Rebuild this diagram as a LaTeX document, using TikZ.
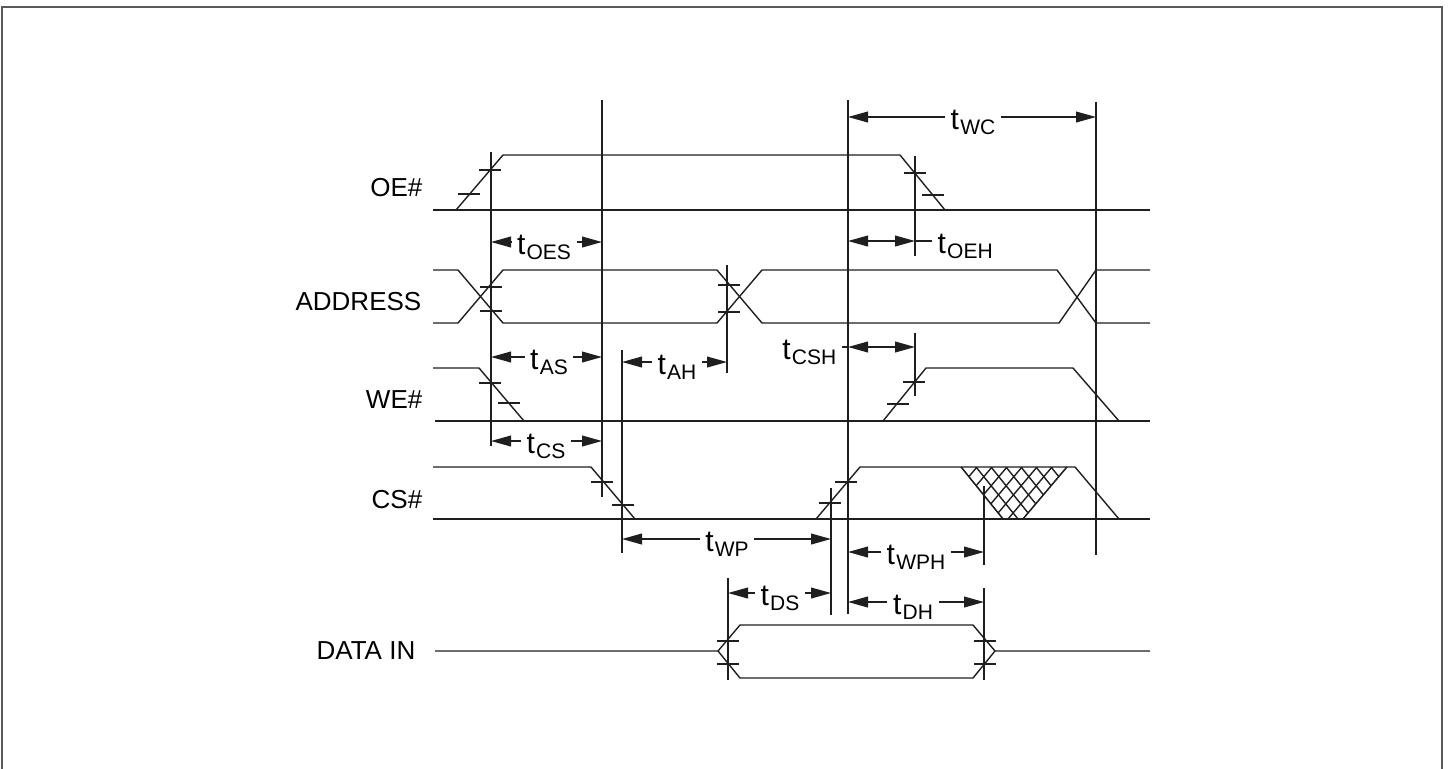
\documentclass[tikz,border=0pt]{standalone}
\usepackage{fontspec}
\setmainfont{Liberation Sans}
\usetikzlibrary{arrows.meta}
\newcommand{\tsub}[1]{t\kern0.6pt\raisebox{-2.6pt}{\fontsize{10.5}{12}\selectfont #1}}

\begin{document}
\begin{tikzpicture}[x=0.5pt,y=-0.5pt,line width=0.7pt,
  wave/.style={draw=black!88,line join=miter},
  guide/.style={draw=black!88},
  dimto/.style={draw=black!88,-{Triangle[length=10pt,width=5.4pt]}},
  dimboth/.style={draw=black!88,{Triangle[length=10pt,width=5.4pt]}-{Triangle[length=10pt,width=5.4pt]}},
  siglab/.style={anchor=east,inner sep=0pt,font=\fontsize{13}{15}\selectfont},
  tlab/.style={inner xsep=2.5pt,inner ysep=0pt,text height=13pt,text depth=1pt,font=\fontsize{15}{17}\selectfont}]
 \useasboundingbox (0,0) rectangle (1448,768);
 \draw[black!65,line width=1pt] (2,775) -- (2,7) -- (1442,7) -- (1442,775);

 % signal names
 \node[siglab] (loe) at (423,188) {OE\#};
 \node[siglab] (laddr) at (422,302) {ADDRESS};
 \node[siglab] (lwe) at (423,400) {WE\#};
 \node[siglab] (lcs) at (423,500) {CS\#};
 \node[siglab] (ldin) at (416,651) {DATA IN};

 % waveforms
 \draw[wave] (433,210) -- (1150,210);
 \draw[wave] (456,210) -- (503,155) -- (900,155) -- (945,210);
 \draw[wave] (433,270) -- (458,270) -- (503,323) -- (717,323) -- (762,270)
   -- (1057,270) -- (1096,323) -- (1150,323);
 \draw[wave] (433,323) -- (458,323) -- (503,270) -- (717,270) -- (762,323)
   -- (1059,323) -- (1096,270) -- (1150,270);
 \draw[wave] (435,421) -- (1150,421);
 \draw[wave] (433,368) -- (479,368) -- (524,421);
 \draw[wave] (883,421) -- (926,368) -- (1073,368) -- (1119,421);
 \draw[wave] (433,519) -- (1150,519);
 \draw[wave] (433,467) -- (591,467) -- (635,519);
 \draw[wave] (816,519) -- (860,467) -- (1075,467) -- (1119,519);
 \draw[wave] (435,651) -- (718,651) -- (740,625) -- (973,625) -- (995,651) -- (1150,651);
 \draw[wave] (718,651) -- (740,678) -- (973,678) -- (995,651);

 % don't-care region on CS#
 \begin{scope}
  \clip (961,467) -- (1067,467) -- (1023,519) -- (1003,519) -- cycle;
  \foreach \k in {-4,...,8}{
   \draw[wave] (961+15*\k,467) -- ++(42,52);
   \draw[wave] (1067-15*\k,467) -- ++(-44,52);
  }
 \end{scope}
 \draw[wave] (961,467) -- (1003,519);
 \draw[wave] (1067,467) -- (1023,519);

 % edge ticks
 \foreach \x/\y in {490/170,469/194,915/173,933/195,491/287,491/311,729/285,729/312,
   490/383,509/403,914/382,898/404,602/482,623/505,846/482,830/503,
   728/641,728/664,985/641,985/664}
  \draw[wave] (\x-11,\y) -- (\x+11,\y);

 % reference lines
 \foreach \n/\x/\ya/\yb in {v1/491/152/446,v2/602/100/497,v3/622/350/553,v4/727/265/373,
   v5/848/100/614,v6/915/156/256,v7/915/333/396,v8/1096/102/555,v9/831/488/615,
   v10/984/486/565,v10b/984/588/680,v11/728/578/680}
  \draw[guide] (\x,\ya) coordinate (\n) -- (\x,\yb);

 % timing parameters
 \node[tlab] (twc) at (973,117) {\tsub{WC}};
 \draw[dimto] (twc.west) -- (twc.west -| v5);
 \draw[dimto] (twc.east) -- (twc.east -| v8);

 \node[tlab] (toes) at (544,242) {\tsub{OES}};
 \draw[dimto] (toes.west) -- (toes.west -| v1);
 \draw[dimto] (toes.east) -- (toes.east -| v2);

 \node[tlab,anchor=west] (toeh) at (932,241) {\tsub{OEH}};
 \draw[dimboth] (v5 |- toeh.west) -- (v6 |- toeh.west);
 \draw[guide] (v6 |- toeh.west) -- (toeh.west);

 \node[tlab] (tas) at (549,357) {\tsub{AS}};
 \draw[dimto] (tas.west) -- (tas.west -| v1);
 \draw[dimto] (tas.east) -- (tas.east -| v2);

 \node[tlab] (tah) at (677,362) {\tsub{AH}};
 \draw[dimto] (tah.west) -- (tah.west -| v3);
 \draw[dimto] (tah.east) -- (tah.east -| v4);

 \node[tlab,anchor=east] (tcsh) at (842,347) {\tsub{CSH}};
 \draw[guide] (tcsh.east) -- (tcsh.east -| v5);
 \draw[dimboth] (tcsh.east -| v5) -- (tcsh.east -| v7);

 \node[tlab] (tcs) at (546,441) {\tsub{CS}};
 \draw[dimto] (tcs.west) -- (tcs.west -| v1);
 \draw[dimto] (tcs.east) -- (tcs.east -| v2);

 \node[tlab] (twp) at (727,539) {\tsub{WP}};
 \draw[dimto] (twp.west) -- (twp.west -| v3);
 \draw[dimto] (twp.east) -- (twp.east -| v9);

 \node[tlab] (twph) at (916,552) {\tsub{WPH}};
 \draw[dimto] (twph.west) -- (twph.west -| v5);
 \draw[dimto] (twph.east) -- (twph.east -| v10);

 \node[tlab] (tds) at (780,593) {\tsub{DS}};
 \draw[dimto] (tds.west) -- (tds.west -| v11);
 \draw[dimto] (tds.east) -- (tds.east -| v9);

 \node[tlab] (tdh) at (913,602) {\tsub{DH}};
 \draw[dimto] (tdh.west) -- (tdh.west -| v5);
 \draw[dimto] (tdh.east) -- (tdh.east -| v10b);
\end{tikzpicture}
\end{document}
